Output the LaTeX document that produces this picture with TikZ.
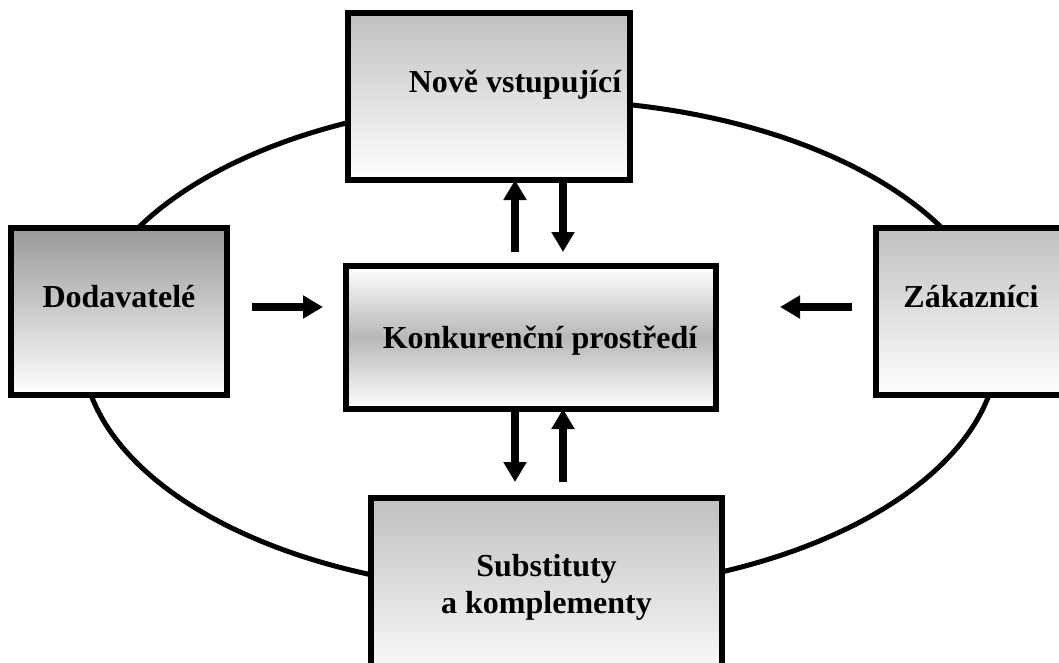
\documentclass[tikz,border=0pt]{standalone}
\usepackage{fontspec}
\setmainfont{Liberation Serif}
\usetikzlibrary{arrows.meta}
\definecolor{shadeA}{HTML}{C0C0C0}
\definecolor{shadeB}{HTML}{999999}
\definecolor{shadeC}{HTML}{B8B8B8}
\begin{document}
\begin{tikzpicture}[x=1pt,y=-1pt,
  box/.style={draw, line width=6pt, inner sep=0pt, outer sep=0pt},
  lbl/.style={font=\fontsize{32}{37}\selectfont\bfseries, align=center, inner sep=0pt, anchor=base},
  arr/.style={line width=8pt, -{Triangle[length=20pt,width=22pt]}}]
\useasboundingbox (0,0) rectangle (1059,662);
% ellipse behind
\draw[line width=5pt] (540,346) ellipse [x radius=458, y radius=246];
% boxes
\node[box, top color=shadeA, bottom color=white, minimum width=282pt, minimum height=167pt] (top) at (489,96.5) {};
\node[box, top color=shadeB, bottom color=white, minimum width=216pt, minimum height=167pt] (dod) at (119,311.5) {};
\node[box, top color=shadeA, bottom color=white, minimum width=194pt, minimum height=167pt] (zak) at (973,311.5) {};
\node[box, top color=shadeA, bottom color=white, minimum width=351pt, minimum height=190pt] (bot) at (546.5,593) {};
\node[box, top color=white, bottom color=white, middle color=shadeC, minimum width=370pt, minimum height=143pt] (mid) at (531,337.5) {};
% labels
\node[lbl] (topt) at (515,92) {Nově vstupující};
\node[lbl] (dodt) at (119,307) {Dodavatelé};
\node[lbl] (zakt) at (971,307) {Zákazníci};
\node[lbl] (midt) at (540,348) {Konkurenční prostředí};
\node[lbl] (bott) at (546.5,613) {Substituty\\a komplementy};
% arrow end points
\coordinate (u1) at (515,252);
\coordinate (d1) at (563,252);
\coordinate (d2) at (515,482);
\coordinate (u2) at (563,482);
\coordinate (l1) at (252,307);
\coordinate (l2) at (323,307);
\coordinate (r1) at (852,307);
\coordinate (r2) at (780,307);
% arrows
\draw[arr] (u1) -- (u1 |- top.south);
\draw[arr] (d1 |- top.south) -- (d1);
\draw[arr] (d2 |- mid.south) -- (d2);
\draw[arr] (u2) -- (u2 |- mid.south);
\draw[arr] (l1) -- (l2);
\draw[arr] (r1) -- (r2);
\end{tikzpicture}
\end{document}
